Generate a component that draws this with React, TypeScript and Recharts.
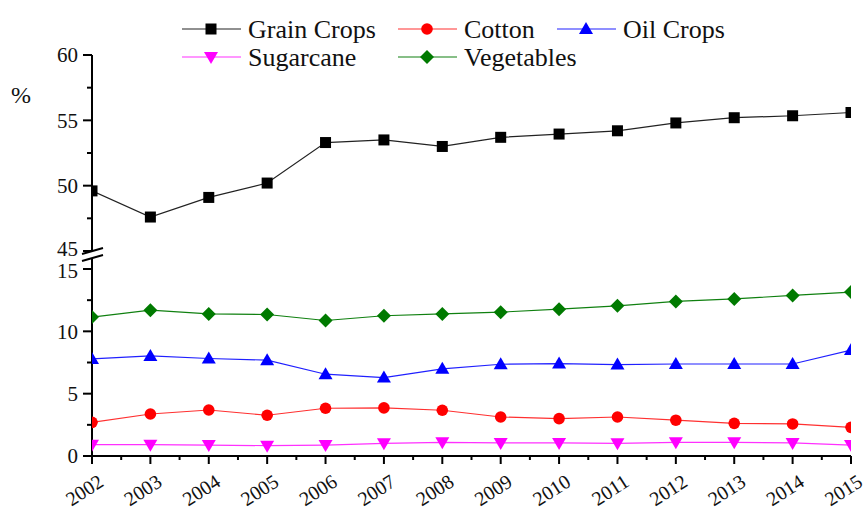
import React from 'react'
import { LineChart, Line, XAxis, YAxis } from 'recharts'

const years = [2002, 2003, 2004, 2005, 2006, 2007, 2008, 2009, 2010, 2011, 2012, 2013, 2014, 2015]
const grainCrops = [49.6, 47.6, 49.1, 50.2, 53.3, 53.5, 53.0, 53.7, 53.95, 54.2, 54.8, 55.2, 55.35, 55.6]
const cotton = [2.7, 3.37, 3.69, 3.27, 3.83, 3.86, 3.67, 3.13, 3.0, 3.13, 2.87, 2.62, 2.57, 2.3]
const oilCrops = [7.79, 8.03, 7.82, 7.69, 6.56, 6.29, 6.99, 7.36, 7.41, 7.33, 7.38, 7.38, 7.38, 8.5]
const sugarcane = [0.91, 0.91, 0.88, 0.83, 0.88, 1.02, 1.1, 1.05, 1.05, 1.02, 1.1, 1.1, 1.05, 0.88]
const vegetables = [11.14, 11.7, 11.4, 11.35, 10.87, 11.25, 11.4, 11.54, 11.78, 12.05, 12.4, 12.6, 12.88, 13.15]

const upperTicks = [45, 47.5, 50, 52.5, 55, 57.5, 60]
const lowerTicks = [0, 2.5, 5, 7.5, 10, 12.5, 15]
const yearTicks = [
  2002, 2002.5, 2003, 2003.5, 2004, 2004.5, 2005, 2005.5, 2006, 2006.5, 2007, 2007.5,
  2008, 2008.5, 2009, 2009.5, 2010, 2010.5, 2011, 2011.5, 2012, 2012.5, 2013, 2013.5,
  2014, 2014.5, 2015,
]

const data = years.map((year, i) => ({
  year,
  grain: grainCrops[i],
  cotton: cotton[i],
  oil: oilCrops[i],
  sugar: sugarcane[i],
  veg: vegetables[i],
}))

const FONT = '"Liberation Serif", "Times New Roman", serif'

type Shape = 'square' | 'circle' | 'up' | 'down' | 'diamond'

const series: { key: string; name: string; line: string; fill: string; shape: Shape }[] = [
  { key: 'grain', name: 'Grain Crops', line: '#222222', fill: '#000000', shape: 'square' },
  { key: 'cotton', name: 'Cotton', line: '#ff3030', fill: '#ff0000', shape: 'circle' },
  { key: 'oil', name: 'Oil Crops', line: '#2020ff', fill: '#0000ff', shape: 'up' },
  { key: 'sugar', name: 'Sugarcane', line: '#ff30ff', fill: '#ff00ff', shape: 'down' },
  { key: 'veg', name: 'Vegetables', line: '#108010', fill: '#007a00', shape: 'diamond' },
]

function Marker({ cx, cy, shape, fill }: { cx: number; cy: number; shape: Shape; fill: string }) {
  if (shape === 'square') return <rect x={cx - 5.5} y={cy - 5.5} width={11} height={11} fill={fill} />
  if (shape === 'circle') return <circle cx={cx} cy={cy} r={5.8} fill={fill} />
  if (shape === 'up')
    return <polygon points={`${cx},${cy - 7} ${cx - 7},${cy + 5} ${cx + 7},${cy + 5}`} fill={fill} />
  if (shape === 'down')
    return <polygon points={`${cx - 7},${cy - 5} ${cx + 7},${cy - 5} ${cx},${cy + 7}`} fill={fill} />
  return <polygon points={`${cx},${cy - 7} ${cx + 7},${cy} ${cx},${cy + 7} ${cx - 7},${cy}`} fill={fill} />
}

const dotFor = (shape: Shape, fill: string) => (p: any) => (
  <Marker key={`${shape}-${p.index}`} cx={p.cx} cy={p.cy} shape={shape} fill={fill} />
)

// labels at the break (45 / 15) are nudged apart a little, as in the original
const labelShift: Record<number, number> = { 45: -2, 15: 2 }

const YTick = (props: any) => {
  const { x, y, payload } = props
  const v = payload.value
  const major = v % 5 === 0
  return (
    <g>
      <line x1={x} x2={x - (major ? 9 : 5)} y1={y} y2={y} stroke="#000" strokeWidth={2} />
      {major && (
        <text
          x={x - 14}
          y={y + (labelShift[v] ?? 0)}
          dy="0.35em"
          textAnchor="end"
          fontFamily={FONT}
          fontSize={21}
          fill="#111"
        >
          {v}
        </text>
      )}
    </g>
  )
}

const XTick = (props: any) => {
  const { x, y, payload } = props
  const v = payload.value
  const major = Number.isInteger(v)
  const ax = x + 13
  const ay = y + 29
  return (
    <g>
      <line x1={x} x2={x} y1={y} y2={y + (major ? 8 : 4)} stroke="#000" strokeWidth={2} />
      {major && (
        <text
          x={ax}
          y={ay}
          textAnchor="end"
          fontFamily={FONT}
          fontSize={20}
          fill="#111"
          transform={`rotate(-33 ${ax} ${ay})`}
        >
          {v}
        </text>
      )}
    </g>
  )
}

const legendPos = [
  { x: 182, y: 29 },
  { x: 398, y: 29 },
  { x: 557, y: 29 },
  { x: 182, y: 57 },
  { x: 398, y: 57 },
]

export default function App() {
  const upper = series.filter((s) => s.key === 'grain')
  const lower = series.filter((s) => s.key !== 'grain')
  return (
    <div style={{ position: 'absolute', left: 0, top: 0, width: 864, height: 510, background: '#fff' }}>
      <div style={{ position: 'absolute', left: 0, top: 0 }}>
        <LineChart width={864} height={290} data={data} margin={{ top: 55, right: 13, bottom: 39, left: 32 }}>
          <XAxis dataKey="year" type="number" domain={[2002, 2015]} ticks={yearTicks} allowDataOverflow hide />
          <YAxis
            type="number"
            domain={[45, 60]}
            ticks={upperTicks}
            interval={0}
            width={60}
            tickSize={0}
            tickMargin={0}
            tickLine={false}
            tick={YTick}
            axisLine={{ stroke: '#000', strokeWidth: 2 }}
            allowDataOverflow
          />
          {upper.map((s) => (
            <Line
              key={s.key}
              dataKey={s.key}
              stroke={s.line}
              strokeWidth={1.2}
              dot={dotFor(s.shape, s.fill)}
              activeDot={false}
              isAnimationActive={false}
            />
          ))}
        </LineChart>
      </div>
      <div style={{ position: 'absolute', left: 0, top: 240 }}>
        <LineChart width={864} height={270} data={data} margin={{ top: 29, right: 13, bottom: 4, left: 32 }}>
          <XAxis
            dataKey="year"
            type="number"
            domain={[2002, 2015]}
            ticks={yearTicks}
            interval={0}
            height={50}
            tickSize={0}
            tickMargin={0}
            tickLine={false}
            tick={XTick}
            axisLine={{ stroke: '#000', strokeWidth: 2 }}
            allowDataOverflow
          />
          <YAxis
            type="number"
            domain={[0, 15]}
            ticks={lowerTicks}
            interval={0}
            width={60}
            tickSize={0}
            tickMargin={0}
            tickLine={false}
            tick={YTick}
            axisLine={{ stroke: '#000', strokeWidth: 2 }}
            allowDataOverflow
          />
          {lower.map((s) => (
            <Line
              key={s.key}
              dataKey={s.key}
              stroke={s.line}
              strokeWidth={1.2}
              dot={dotFor(s.shape, s.fill)}
              activeDot={false}
              isAnimationActive={false}
            />
          ))}
        </LineChart>
      </div>
      <svg
        width={864}
        height={510}
        style={{ position: 'absolute', left: 0, top: 0, pointerEvents: 'none' }}
      >
        <line x1={92} x2={92} y1={250} y2={270} stroke="#000" strokeWidth={2} />
        <polygon points="82,254 103,248 103,255 82,261" fill="#fff" />
        <line x1={82} y1={254} x2={103} y2={248} stroke="#000" strokeWidth={2} />
        <line x1={82} y1={261} x2={103} y2={255} stroke="#000" strokeWidth={2} />
        <text x={21} y={95} dy="0.35em" textAnchor="middle" fontFamily={FONT} fontSize={24} fill="#111">
          %
        </text>
        {series.map((s, i) => {
          const p = legendPos[i]
          return (
            <g key={s.key}>
              <line x1={p.x} x2={p.x + 59} y1={p.y} y2={p.y} stroke={s.line} strokeWidth={1.2} />
              <Marker cx={p.x + 29} cy={p.y} shape={s.shape} fill={s.fill} />
              <text x={p.x + 66} y={p.y + 8.5} fontFamily={FONT} fontSize={26} fill="#111">
                {s.name}
              </text>
            </g>
          )
        })}
      </svg>
    </div>
  )
}
